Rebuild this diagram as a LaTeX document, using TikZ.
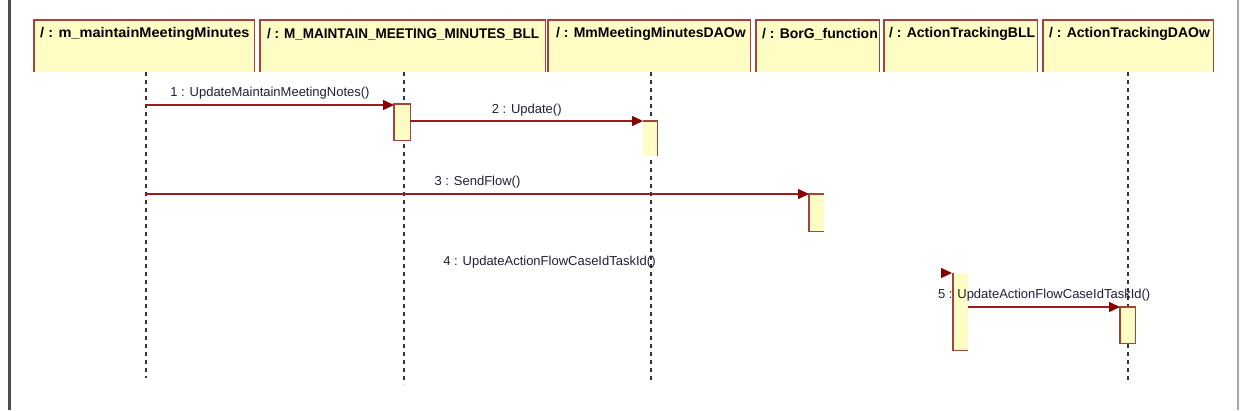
\documentclass[tikz,border=0pt]{standalone}
\usepackage{fontspec}
\usepackage{graphicx}
\setmainfont{Liberation Sans}
\usetikzlibrary{arrows.meta}
\definecolor{boxfill}{HTML}{FFFCC4}
\definecolor{boxline}{HTML}{A3443C}
\definecolor{msgline}{HTML}{A01C1C}
\definecolor{msghead}{HTML}{880000}
\definecolor{lblcol}{HTML}{20203A}
\definecolor{lifecol}{HTML}{333333}
\tikzset{
  headbox/.style={fill=boxfill, draw=none, inner sep=0pt, anchor=north west, minimum height=52pt},
  headborder/.style={draw=boxline, line width=1.5pt},
  headtext/.style={font=\fontsize{14}{16}\selectfont\bfseries, text=black, anchor=west, inner sep=0pt},
  lifeline/.style={draw=lifecol, line width=1.2pt, dash pattern=on 4pt off 4pt},
  actbox/.style={fill=boxfill, draw=none, inner sep=0pt, anchor=north west},
  actborder/.style={draw=boxline, line width=1.5pt},
  msg/.style={draw=msgline, line width=1.3pt, -{Triangle[length=11pt,width=10pt,color=msghead]}},
  msglbl/.style={font=\fontsize{13}{15}\selectfont, text=lblcol, anchor=south, inner sep=1pt, yshift=4pt},
  frameline/.style={draw=gray!60!black}
}
\begin{document}
\begin{tikzpicture}[x=1pt,y=-1pt]
\useasboundingbox (0,0) rectangle (1248,410);
\fill[white] (0,0) rectangle (1248,410);
% frame
\draw[frameline, line width=2.2pt] (9.5,0) -- (9.5,410);
\draw[frameline, line width=1.5pt, draw=gray!70] (1238,0) -- (1238,410);

% header boxes
\node[headbox, minimum width=220pt] (h1) at (34,20) {};
\node[headbox, minimum width=285pt] (h2) at (260,20) {};
\node[headbox, minimum width=202pt] (h3) at (548,20) {};
\node[headbox, minimum width=123pt] (h4) at (756,20) {};
\node[headbox, minimum width=153pt] (h5) at (884,20) {};
\node[headbox, minimum width=170pt] (h6) at (1043,20) {};
\foreach \h in {h1,h2,h3,h4,h5,h6}{
  \draw[headborder] (\h.south west) |- (\h.north east) -- (\h.south east);
}
\node[headtext] (t1) at (40,34) {\scalebox{1.04}[1]{/ : m\_maintainMeetingMinutes}};
\node[headtext] (t2) at (267,34) {\scalebox{0.965}[1]{/ : M\_MAINTAIN\_MEETING\_MINUTES\_BLL}};
\node[headtext] (t3) at (556,34) {/ : MmMeetingMinutesDAOw};
\node[headtext] (t4) at (762,34) {/ : BorG\_function};
\node[headtext] (t5) at (889,34) {/ : ActionTrackingBLL};
\node[headtext] (t6) at (1049,34) {/ : ActionTrackingDAOw};

% lifelines
\coordinate (l1t) at (146,72); \coordinate (l1b) at (146,378);
\coordinate (l2t) at (404,72); \coordinate (l2b) at (404,384);
\coordinate (l3t) at (651,72); \coordinate (l3b) at (651,383);
\coordinate (l6t) at (1128,72); \coordinate (l6b) at (1128,383);
\draw[lifeline] (l1t) -- (l1b);
\draw[lifeline] (l2t) -- (l2b);
\draw[lifeline] (l3t) -- (l3b);
\draw[lifeline] (l6t) -- (l6b);

% activation boxes
\node[actbox, minimum width=16pt, minimum height=36pt] (a2) at (394,104) {};
\draw[actborder] (a2.north west) rectangle (a2.south east);
\node[actbox, minimum width=14pt, minimum height=35pt] (a3) at (643,121) {};
\draw[actborder] (a3.north west) -- (a3.north east) -- (a3.south east);
\node[actbox, minimum width=15pt, minimum height=37pt] (a4) at (809,194) {};
\draw[actborder] (a4.north east) -- (a4.north west) -- (a4.south west) -- (a4.south east);
\node[actbox, minimum width=15pt, minimum height=77pt] (a5) at (953,273) {};
\draw[actborder] (a5.north west) -- (a5.south west) -- (a5.south east);
\node[actbox, minimum width=15pt, minimum height=36pt] (a6) at (1120,307) {};
\draw[actborder] (a6.north west) rectangle (a6.south east);

% messages
\coordinate (m1s) at (146,105);
\draw[msg] (m1s) -- (m1s -| a2.west) node[msglbl, midway] {1 : UpdateMaintainMeetingNotes()};
\coordinate (m2s) at (a2.east |- a3.north);
\draw[msg] (m2s) -- (a3.north west) node[msglbl, midway, yshift=-1pt] {2 : Update()};
\coordinate (m3s) at (146,194);
\draw[msg] (m3s) -- (a4.north west) node[msglbl, midway] {3 : SendFlow()};
\coordinate (m4s) at (146,273);
\path (m4s) -- (a5.north west) node[msglbl, midway] {4 : UpdateActionFlowCaseIdTaskId()};
\coordinate (m4e) at ([xshift=-1pt]a5.north west);
\coordinate (m4p) at ([xshift=-3pt]a5.north west);
\draw[msg] (m4p) -- (m4e);
\coordinate (m5s) at (a5.east |- a6.north);
\draw[msg] (m5s) -- (a6.north west) node[msglbl, midway] {5 : UpdateActionFlowCaseIdTaskId()};
\end{tikzpicture}
\end{document}
